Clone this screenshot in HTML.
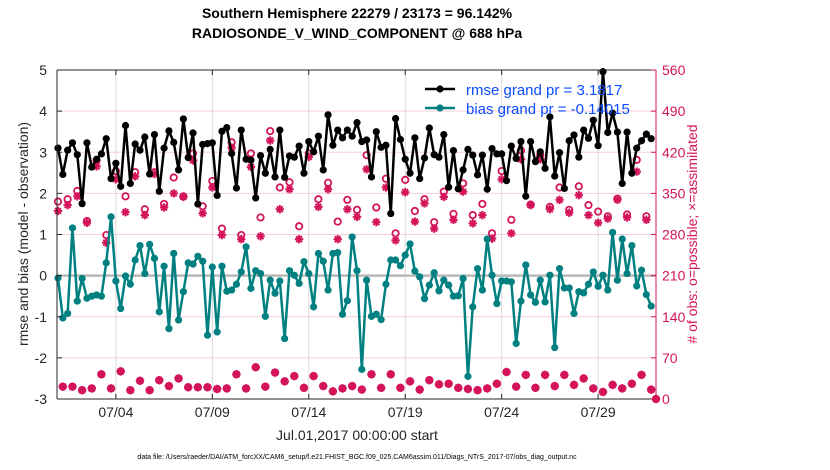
<!DOCTYPE html>
<html><head><meta charset="utf-8"><style>
body{margin:0;background:#fff;}
svg{display:block;font-family:"Liberation Sans",sans-serif;}
</style></head><body>
<svg id="chart" width="830" height="470"></svg>
<script>
const dateTicks=["07/04","07/09","07/14","07/19","07/24","07/29"];
const dateTickDays=[3,8,13,18,23,28];
const leftTicks=[-3,-2,-1,0,1,2,3,4,5];
const rightTicks=[0,70,140,210,280,350,420,490,560];
const rmse=[3.10,2.46,3.05,3.23,2.94,1.75,3.23,2.64,2.83,2.96,3.33,2.36,2.73,2.17,3.65,2.24,3.20,3.05,3.37,2.47,3.43,2.05,3.10,3.52,3.24,2.57,3.81,2.87,3.47,1.74,3.19,3.21,3.23,1.95,3.51,3.60,2.97,2.13,3.54,2.83,2.81,1.89,2.92,2.49,
3.07,2.40,3.54,2.39,2.91,2.88,3.15,2.49,3.26,3.01,3.39,2.57,3.91,3.17,3.54,3.35,3.54,3.39,3.72,3.26,3.30,2.40,3.50,3.12,3.17,1.51,3.82,3.31,2.83,2.49,3.35,2.36,2.86,3.59,2.94,2.88,3.43,2.15,3.04,2.11,2.57,
3.07,2.93,2.45,2.93,2.10,3.09,2.96,2.96,2.31,3.15,2.85,3.26,1.93,3.26,2.77,3.01,2.61,3.86,2.42,2.99,2.12,3.28,3.42,2.88,3.54,3.34,3.78,3.16,4.96,3.48,3.95,3.49,2.24,3.49,2.49,3.10,3.28,3.44,3.33];
const bias=[-0.06,-1.03,-0.92,1.16,-0.62,-0.07,-0.55,-0.50,-0.47,-0.50,0.31,1.43,-0.13,-0.80,-0.01,-0.21,0.38,0.73,0.05,0.76,0.42,-0.88,0.23,-1.29,0.54,-1.08,-0.39,0.31,0.28,0.47,0.35,-1.45,0.21,-1.37,0.23,-0.38,-0.35,-0.21,0.09,0.70,-0.31,0.12,0.05,-0.99,
-0.11,-0.43,-0.13,-1.53,0.12,0.01,-0.19,0.34,0.05,-0.76,0.54,0.35,-0.35,0.54,0.56,-0.94,-0.61,0.94,0.12,-2.28,-0.11,-0.99,-0.94,-1.07,-0.21,0.38,0.38,0.24,0.50,0.77,0.11,-0.03,-0.56,-0.23,0.07,-0.37,-0.11,-0.23,-0.50,-0.49,-0.07,
-2.45,-0.76,0.17,-0.35,0.89,0.01,-0.68,-0.13,-0.13,-0.15,-1.65,-0.62,0.26,-0.47,-0.65,-0.11,-0.64,0.01,-1.75,0.17,-0.30,-0.30,-0.92,-0.39,-0.42,-0.21,0.09,-0.26,0.01,-0.35,1.05,-0.11,0.89,0.05,0.73,-0.25,0.13,-0.46,-0.74];
const assimilated=[320,21,330,21,345,15,300,18,396,42,266,18,374,47,318,15,379,31,313,15,383,32,326,22,350,35,344,20,406,20,316,20,360,17,279,18,428,42,272,18,395,54,277,21,
440,45,323,30,357,39,272,19,412,39,327,22,357,13,272,18,323,22,310,16,391,42,301,19,360,42,270,19,352,30,302,16,333,32,290,25,344,26,305,19,353,
17,299,15,313,18,273,26,374,46,282,21,408,41,330,19,408,41,323,22,339,41,317,24,347,35,313,18,300,12,307,24,339,18,309,26,387,41,305,16,0];
const possible=[336,21,340,21,354,15,303,18,406,42,279,18,388,47,345,15,386,31,323,15,386,32,332,22,377,35,345,20,418,20,328,20,371,17,290,18,437,42,279,18,418,54,309,21,
456,45,360,30,369,39,294,19,418,39,340,22,368,13,302,18,339,22,322,16,415,42,326,19,375,42,282,19,373,30,320,16,340,32,301,25,353,26,315,19,367,
17,313,15,332,18,282,26,388,46,305,21,423,41,331,19,415,41,327,22,360,41,322,24,362,35,330,18,319,12,311,24,341,18,314,26,407,41,311,16,0];
const STEP_DAYS=0.25;

const svg=document.getElementById('chart');
const NS='http://www.w3.org/2000/svg';
const L=58,R=656,T=70,B=399,AXL=57;
const xs=d=>L+d*(R-L)/31;
const ys=v=>B-(v+3)*(B-T)/8;
const yc=c=>B-c*(B-T)/560;
const PINK='#d4145a', TEAL='#008080';
function mk(tag,attrs,parent){const e=document.createElementNS(NS,tag);for(const k in attrs)e.setAttribute(k,attrs[k]);(parent||svg).appendChild(e);return e;}
function txt(s,attrs,parent){const e=mk('text',attrs,parent);e.textContent=s;return e;}

const bg=mk('rect',{x:AXL,y:T,width:R-AXL,height:B-T,fill:'#fff'});


const grid=mk('g',{});


rightTicks.forEach(c=>{mk('line',{x1:AXL,x2:R,y1:yc(c),y2:yc(c),stroke:'#f6cfdc','stroke-width':1},grid);});
dateTickDays.forEach(d=>{mk('line',{x1:xs(d),x2:xs(d),y1:T,y2:B,stroke:'#dadada','stroke-width':1},grid);});
const zl=mk('line',{x1:AXL,x2:R,y1:ys(0),y2:ys(0),stroke:'#b8b8b8','stroke-width':2.5});



const obsG=mk('g',{});


possible.forEach((c,i)=>{
  const m=mk('circle',{cx:xs(i*STEP_DAYS),cy:yc(c),r:3.2,fill:'none',stroke:PINK,'stroke-width':1.8},obsG);
  
  
});
assimilated.forEach((c,i)=>{
  const x=xs(i*STEP_DAYS),y=yc(c),r=4.2;
  const g=mk('g',{stroke:PINK,'stroke-width':2},obsG);
  
  
  mk('line',{x1:x-r,x2:x+r,y1:y,y2:y},g);
  mk('line',{x1:x,x2:x,y1:y-r,y2:y+r},g);
  mk('line',{x1:x-r*0.7,x2:x+r*0.7,y1:y-r*0.7,y2:y+r*0.7},g);
  mk('line',{x1:x-r*0.7,x2:x+r*0.7,y1:y+r*0.7,y2:y-r*0.7},g);
});

function series(vals,color,name){
  const g=mk('g',{});
  
  
  const pts=vals.map((v,i)=>xs(i*STEP_DAYS)+','+ys(v)).join(' ');
  mk('polyline',{points:pts,fill:'none',stroke:color,'stroke-width':2.5,'stroke-linejoin':'round'},g);
  vals.forEach((v,i)=>{
    const c=mk('circle',{cx:xs(i*STEP_DAYS),cy:ys(v),r:3.6,fill:color},g);
    
    
  });
}
series(rmse,'#000','rmse-series');
series(bias,TEAL,'bias-series');

const box=mk('g',{});


mk('line',{x1:AXL,x2:R,y1:T,y2:T,stroke:'#262626','stroke-width':1},box);
mk('line',{x1:AXL,x2:R,y1:B,y2:B,stroke:'#262626','stroke-width':1},box);
mk('line',{x1:AXL,x2:AXL,y1:T,y2:B,stroke:'#262626','stroke-width':1},box);
mk('line',{x1:R,x2:R,y1:T,y2:B,stroke:PINK,'stroke-width':1},box);

const ly=mk('g',{});


leftTicks.forEach(v=>{
  mk('line',{x1:AXL,x2:AXL+5,y1:ys(v),y2:ys(v),stroke:'#262626'},ly);
  const t=txt(String(v),{x:AXL-10,y:ys(v)+5,'text-anchor':'end','font-size':14,fill:'#262626'},ly);
  
  
});
const ry=mk('g',{});


rightTicks.forEach(c=>{
  mk('line',{x1:R-5,x2:R,y1:yc(c),y2:yc(c),stroke:PINK},ry);
  const t=txt(String(c),{x:R+6,y:yc(c)+5,'font-size':14,fill:PINK},ry);
  
  
});
const xa=mk('g',{});


dateTicks.forEach((s,i)=>{
  const x=xs(dateTickDays[i]);
  mk('line',{x1:x,x2:x,y1:B,y2:B-5,stroke:'#262626'},xa);
  mk('line',{x1:x,x2:x,y1:T,y2:T+5,stroke:'#262626'},xa);
  const t=txt(s,{x:x,y:417,'text-anchor':'middle','font-size':14,fill:'#262626'},xa);
  
  
});
</script>
<svg width="830" height="470" style="position:absolute;left:0;top:0">
 <text x="357" y="18" text-anchor="middle" font-size="14" font-weight="bold" font-family="Liberation Sans, sans-serif">Southern Hemisphere 22279 / 23173 = 96.142%</text>
 <text x="357" y="38" text-anchor="middle" font-size="14" font-weight="bold" font-family="Liberation Sans, sans-serif">RADIOSONDE_V_WIND_COMPONENT @ 688 hPa</text>
 <text transform="translate(28,234) rotate(-90)" text-anchor="middle" font-size="14" fill="#262626" font-family="Liberation Sans, sans-serif">rmse and bias (model - observation)</text>
 <text transform="translate(697,234) rotate(-90)" text-anchor="middle" font-size="14" fill="#d4145a" font-family="Liberation Sans, sans-serif"># of obs: o=possible; ×=assimilated</text>
 <text x="357" y="440" text-anchor="middle" font-size="14" fill="#262626" font-family="Liberation Sans, sans-serif">Jul.01,2017 00:00:00 start</text>
 <text x="357" y="459" text-anchor="middle" font-size="7" fill="#000" font-family="Liberation Sans, sans-serif">data file: /Users/raeder/DAI/ATM_forcXX/CAM6_setup/f.e21.FHIST_BGC.f09_025.CAM6assim.011/Diags_NTrS_2017-07/obs_diag_output.nc</text>
 <g font-family="Liberation Sans, sans-serif">
  <g>
   <line x1="425" x2="455" y1="89" y2="89" stroke="#000" stroke-width="2.5"/>
   <circle cx="440" cy="89" r="3.6" fill="#000"/>
   <text x="466" y="95" font-size="15" fill="#0a4cff">rmse grand pr = 3.1817</text>
  </g>
  <g>
   <line x1="425" x2="455" y1="108" y2="108" stroke="#008080" stroke-width="2.5"/>
   <circle cx="440" cy="108" r="3.6" fill="#008080"/>
   <text x="466" y="114" font-size="15" fill="#0a4cff">bias grand pr = -0.14015</text>
  </g>
 </g>
</svg>
</body></html>
